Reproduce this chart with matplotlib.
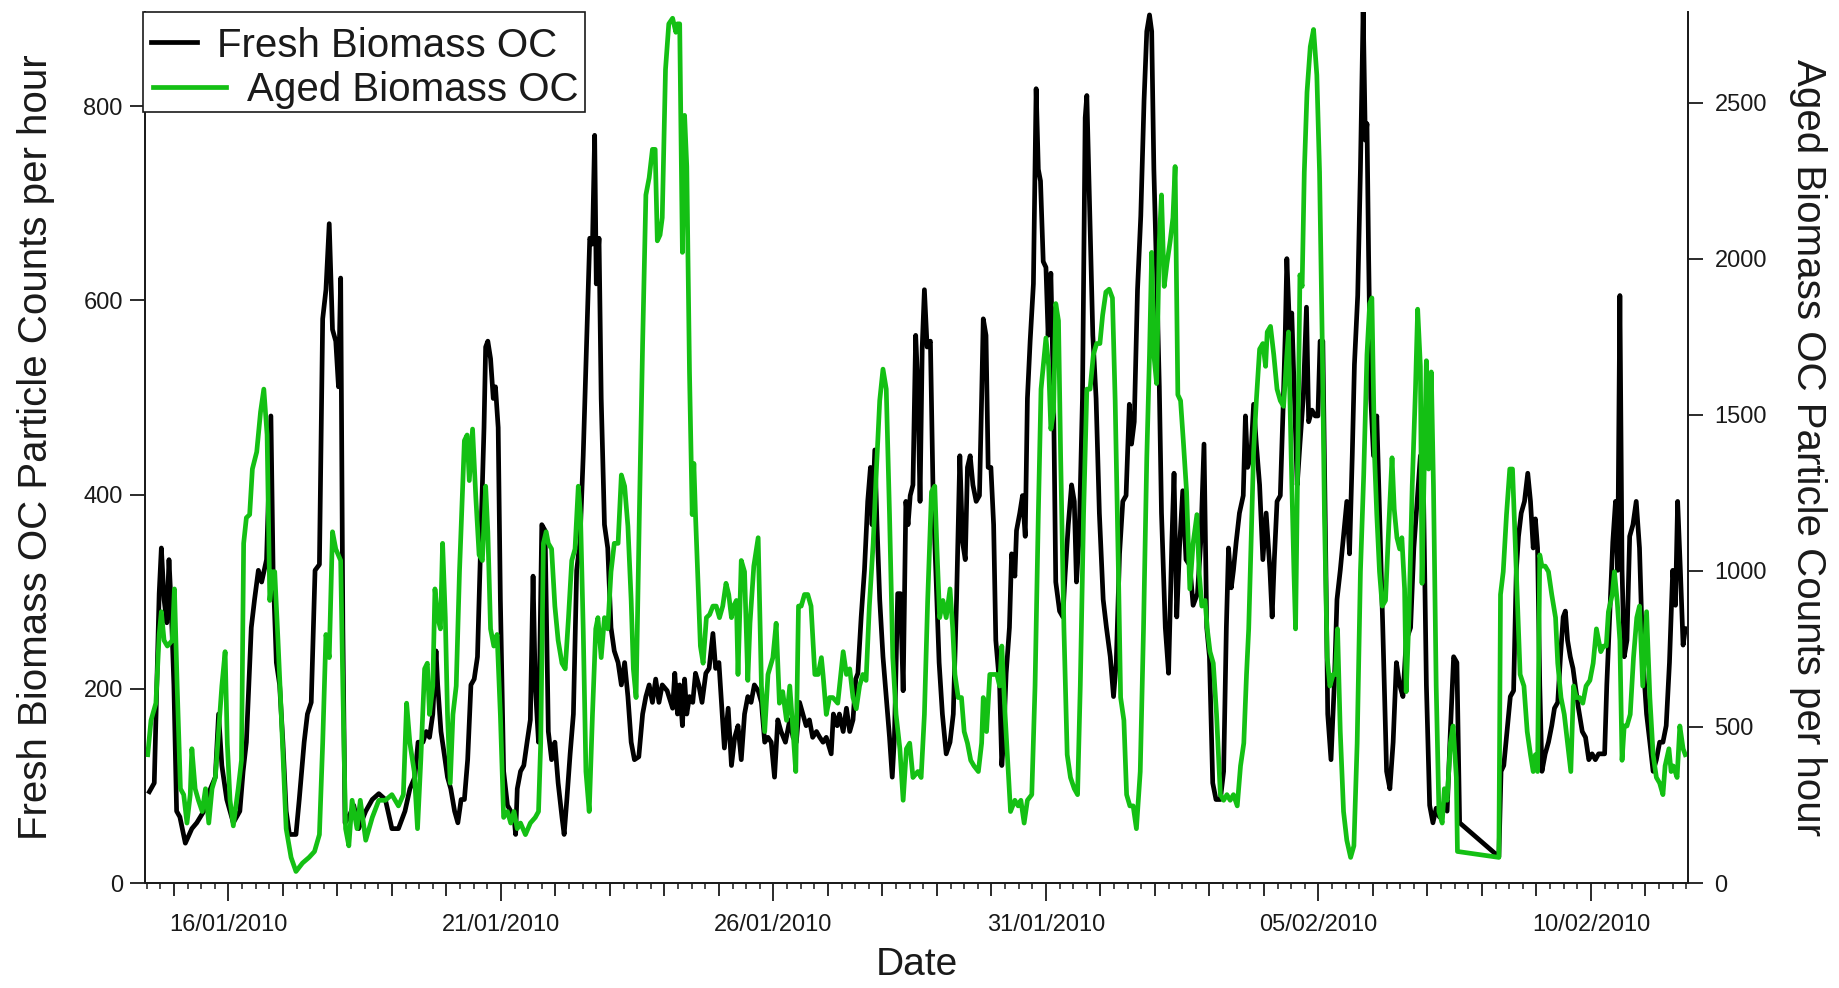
import matplotlib
matplotlib.use("Agg")
import matplotlib.pyplot as plt
import matplotlib.dates as mdates
from matplotlib.lines import Line2D
from matplotlib.patches import Rectangle
from matplotlib.ticker import FuncFormatter
import numpy as np
import pandas as pd

# -----------------------------
# Data (time = day of January 2010, e.g. 36.5 = 05/02/2010 12:00)
# -----------------------------

fresh_day = [
    14.55, 14.64, 14.73, 14.77, 14.82, 14.87, 14.91, 14.95, 15.00, 15.05, 15.11, 15.21, 15.33, 15.42,
    15.55, 15.67, 15.76, 15.82, 15.88, 15.97, 16.09, 16.21, 16.27, 16.33, 16.42, 16.48, 16.55, 16.61,
    16.70, 16.78, 16.82, 16.88, 16.94, 17.00, 17.06, 17.12, 17.24, 17.30, 17.39, 17.45, 17.52, 17.59,
    17.67, 17.73, 17.79, 17.85, 17.91, 17.97, 18.02, 18.06, 18.10, 18.14, 18.21, 18.30, 18.39, 18.52,
    18.64, 18.76, 18.88, 19.00, 19.12, 19.24, 19.33,
    19.42, 19.48, 19.57, 19.63, 19.69, 19.75, 19.81, 19.84, 19.90, 19.96, 20.02, 20.08, 20.15, 20.21,
    20.27, 20.33, 20.39, 20.45, 20.51, 20.57, 20.63, 20.69, 20.72, 20.76, 20.81, 20.86, 20.90, 20.95,
    20.99, 21.05, 21.12, 21.18, 21.24, 21.27, 21.30, 21.36, 21.42, 21.48, 21.54, 21.59, 21.63, 21.69,
    21.75, 21.81, 21.87, 21.93, 21.99, 22.05, 22.12, 22.16, 22.21, 22.27, 22.33, 22.39, 22.45, 22.51,
    22.57, 22.63, 22.68, 22.72, 22.75, 22.80, 22.84, 22.90, 22.96, 23.02, 23.08, 23.15, 23.21, 23.27,
    23.33, 23.39, 23.45, 23.53, 23.60, 23.66, 23.72, 23.78, 23.84, 23.90, 23.96, 24.05, 24.15, 24.19,
    24.24,
    24.28, 24.33, 24.37, 24.41, 24.46, 24.52, 24.57, 24.63, 24.69, 24.76, 24.82, 24.89, 24.94, 25.00,
    25.06, 25.10, 25.17, 25.23, 25.29, 25.35, 25.41, 25.47, 25.53, 25.59, 25.65, 25.72, 25.78, 25.84,
    25.90, 25.96, 26.02, 26.08, 26.14, 26.22, 26.30, 26.36, 26.42, 26.48, 26.54, 26.60, 26.66, 26.72,
    26.79, 26.85, 26.91, 26.97, 27.06, 27.10, 27.17, 27.21, 27.28, 27.34, 27.40, 27.46, 27.51, 27.55,
    27.61, 27.67, 27.73, 27.78, 27.81, 27.86, 27.90, 27.95, 28.01, 28.07, 28.13, 28.18, 28.22, 28.28,
    28.33, 28.38, 28.43, 28.47, 28.51, 28.56, 28.61, 28.65, 28.69, 28.73, 28.77, 28.82, 28.88, 28.93,
    28.98, 29.04, 29.10, 29.17,
    29.24, 29.30, 29.36, 29.42, 29.47, 29.52, 29.56, 29.61, 29.66, 29.72, 29.78, 29.82, 29.85, 29.90,
    29.94, 29.99, 30.04, 30.08, 30.15, 30.19, 30.22, 30.27, 30.33, 30.37, 30.43, 30.46, 30.52, 30.57,
    30.62, 30.66, 30.71, 30.77, 30.82, 30.86, 30.90, 30.95, 31.00, 31.04, 31.09, 31.14, 31.18, 31.25,
    31.31, 31.35, 31.41, 31.47, 31.52, 31.56, 31.61, 31.67, 31.72, 31.75, 31.80, 31.86, 31.92, 31.98,
    32.05, 32.11, 32.18, 32.24, 32.29, 32.35, 32.41, 32.47, 32.53, 32.57, 32.62, 32.68, 32.74, 32.80,
    32.85, 32.90, 32.94, 32.98, 33.03, 33.08, 33.12, 33.19, 33.25, 33.31, 33.35, 33.40, 33.45, 33.51,
    33.57, 33.64, 33.70, 33.78, 33.84, 33.90, 33.95, 34.00, 34.06, 34.12,
    34.20, 34.26, 34.31, 34.35, 34.40, 34.44, 34.49, 34.55, 34.62, 34.66, 34.70, 34.76, 34.81, 34.86,
    34.92, 34.98, 35.04, 35.11, 35.15, 35.19, 35.24, 35.30, 35.35, 35.39, 35.42, 35.47, 35.51, 35.56,
    35.61, 35.66, 35.72, 35.78, 35.82, 35.88, 35.94, 35.99, 36.03, 36.08, 36.13, 36.17, 36.23, 36.29,
    36.34, 36.40, 36.46, 36.52, 36.57, 36.62, 36.66, 36.72, 36.77, 36.82, 36.86, 36.89, 36.92, 36.96,
    37.01, 37.07, 37.12, 37.18, 37.25, 37.31, 37.37, 37.43, 37.49, 37.55, 37.61, 37.69, 37.75, 37.81,
    37.87, 37.92, 37.98, 38.04, 38.10, 38.16, 38.22, 38.29, 38.36, 38.42, 38.48, 38.54, 38.59,
    39.31, 39.35, 39.40, 39.46, 39.52, 39.58, 39.63, 39.67, 39.72, 39.78, 39.84, 39.89, 39.94, 39.98,
    40.02, 40.06, 40.10, 40.16, 40.22, 40.28, 40.33, 40.39, 40.44, 40.49, 40.53, 40.57, 40.62, 40.67,
    40.71, 40.77, 40.84, 40.90, 40.96, 41.02, 41.08, 41.14, 41.20, 41.25, 41.29, 41.36, 41.40, 41.45,
    41.49, 41.53, 41.57, 41.61, 41.66, 41.71, 41.77, 41.83, 41.89, 41.95, 42.02, 42.08, 42.14, 42.20,
    42.26, 42.32, 42.38, 42.44, 42.50, 42.55, 42.59, 42.64, 42.69, 42.73,
]
fresh_val = [
    94, 103, 298, 345, 292, 268, 333, 286, 204, 74, 68, 41, 56, 62,
    74, 97, 109, 174, 121, 86, 62, 74, 115, 145, 263, 292, 322, 310,
    333, 481, 322, 227, 204, 145, 74, 50, 50, 86, 145, 174, 186, 322,
    328, 581, 611, 679, 570, 558, 511, 623, 263, 62, 68, 80, 56, 74,
    86, 92, 86, 56, 56, 74, 97,
    109, 145, 145, 156, 150, 174, 239, 204, 156, 133, 109, 97, 74, 62,
    86, 86, 127, 204, 210, 233, 351, 469, 552, 558, 540, 499, 511, 469,
    292, 115, 80, 74, 68, 50, 97, 115, 121, 145, 168, 316, 204, 145,
    369, 363, 156, 127, 145, 103, 68, 50, 86, 133, 174, 322, 351, 440,
    552, 664, 658, 770, 617, 664, 499, 369, 345, 263, 239, 227, 204, 227,
    192, 145, 127, 130, 174, 192, 204, 186, 210, 186, 204, 198, 180, 216,
    174,
    204, 162, 210, 174, 192, 186, 216, 204, 186, 216, 221, 257, 221, 227,
    174, 139, 180, 121, 150, 162, 127, 174, 192, 186, 204, 198, 186, 145,
    150, 145, 109, 168, 156, 145, 168, 150, 145, 186, 174, 162, 168, 150,
    156, 150, 145, 150, 133, 174, 162, 174, 156, 180, 156, 168, 210, 216,
    274, 322, 393, 428, 369, 446, 369, 292, 233, 192, 150, 109, 150, 298,
    298, 198, 393, 369, 399, 410, 564, 511, 393, 552, 611, 552, 558, 399,
    322, 227, 174, 133,
    145, 174, 292, 440, 351, 333, 428, 440, 410, 393, 399, 499, 581, 564,
    428, 428, 369, 250, 204, 121, 145, 216, 263, 339, 316, 363, 381, 399,
    357, 499, 558, 617, 818, 735, 723, 640, 634, 564, 628, 499, 310, 280,
    274, 316, 369, 410, 393, 310, 357, 499, 788, 811, 699, 564, 499, 381,
    292, 263, 233, 192, 227, 339, 393, 399, 493, 452, 475, 611, 687, 806,
    877, 894, 877, 735, 628, 511, 381, 263, 216, 351, 422, 274, 345, 404,
    333, 327, 286, 298, 351, 452, 263, 233, 103, 86,
    86, 115, 263, 345, 304, 322, 351, 381, 399, 481, 428, 440, 493, 452,
    410, 333, 381, 322, 274, 333, 393, 399, 487, 564, 643, 570, 587, 499,
    410, 452, 499, 593, 475, 487, 481, 481, 558, 558, 351, 174, 127, 204,
    292, 322, 357, 393, 339, 440, 534, 605, 735, 900, 765, 782, 646, 499,
    440, 481, 381, 263, 115, 97, 145, 227, 204, 192, 250, 263, 345, 393,
    440, 428, 204, 80, 62, 77, 68, 80, 74, 156, 233, 227, 62,
    27, 115, 121, 156, 192, 198, 322, 357, 381, 393, 422, 393, 345, 375,
    345, 204, 115, 133, 145, 162, 180, 186, 233, 274, 280, 250, 233, 221,
    204, 180, 156, 150, 127, 133, 127, 133, 133, 133, 204, 298, 351, 393,
    322, 605, 322, 233, 250, 357, 369, 393, 345, 233, 174, 145, 115, 127,
    145, 145, 162, 227, 322, 286, 393, 322, 245, 262,
]

aged_day = [
    14.52, 14.58, 14.67, 14.73, 14.77, 14.82, 14.88, 14.97, 15.01, 15.06, 15.12, 15.18, 15.24, 15.30,
    15.33, 15.39, 15.45, 15.52, 15.58, 15.64, 15.70, 15.76, 15.82, 15.88, 15.94, 15.98, 16.03, 16.09,
    16.18, 16.24, 16.28, 16.33, 16.39, 16.44, 16.52, 16.59, 16.65, 16.71, 16.76, 16.81, 16.85, 16.91,
    16.97, 17.06, 17.15, 17.24, 17.36, 17.48, 17.58, 17.67, 17.73, 17.79, 17.85, 17.91, 17.97, 18.06,
    18.10, 18.15, 18.21, 18.27, 18.36, 18.42, 18.52, 18.64, 18.76, 18.88, 19.00, 19.12, 19.21, 19.27,
    19.33,
    19.41, 19.47, 19.53, 19.60, 19.65, 19.69, 19.75, 19.79, 19.84, 19.89, 19.93, 19.98, 20.02, 20.07,
    20.12, 20.18, 20.24, 20.28, 20.33, 20.38, 20.42, 20.48, 20.54, 20.60, 20.66, 20.72, 20.76, 20.81,
    20.87, 20.93, 20.99, 21.05, 21.12, 21.18, 21.24, 21.30, 21.36, 21.45, 21.54, 21.63, 21.69, 21.73,
    21.78, 21.83, 21.87, 21.93, 21.99, 22.05, 22.12, 22.18, 22.24, 22.30, 22.36, 22.42, 22.46, 22.51,
    22.56, 22.62, 22.68, 22.74, 22.78, 22.84, 22.90, 22.96, 23.02, 23.08, 23.15, 23.21, 23.27, 23.33,
    23.39, 23.43, 23.48, 23.54, 23.60, 23.66, 23.72, 23.78, 23.83, 23.87, 23.92, 23.96, 24.02, 24.08,
    24.15, 24.21, 24.24,
    24.28, 24.33, 24.37, 24.41, 24.46, 24.51, 24.54, 24.57, 24.61, 24.66, 24.71, 24.77, 24.83, 24.89,
    24.95, 25.01, 25.07, 25.13, 25.18, 25.23, 25.27, 25.32, 25.35, 25.41, 25.47, 25.53, 25.57, 25.64,
    25.72, 25.78, 25.84, 25.90, 25.99, 26.05, 26.11, 26.17, 26.24, 26.30, 26.36, 26.41, 26.46, 26.51,
    26.57, 26.63, 26.69, 26.76, 26.82, 26.88, 26.91, 26.97, 27.03, 27.09, 27.18, 27.28, 27.34, 27.40,
    27.46, 27.52, 27.58, 27.64, 27.70, 27.76, 27.83, 27.89, 27.95, 28.01, 28.07, 28.13, 28.19, 28.25,
    28.32, 28.38, 28.44, 28.50, 28.56, 28.65, 28.71, 28.77, 28.83, 28.90, 28.96, 29.00, 29.05, 29.11,
    29.17,
    29.24, 29.29, 29.33, 29.39, 29.45, 29.50, 29.56, 29.62, 29.68, 29.76, 29.82, 29.85, 29.91, 29.97,
    30.04, 30.10, 30.15, 30.19, 30.25, 30.31, 30.35, 30.43, 30.49, 30.54, 30.60, 30.66, 30.74, 30.80,
    30.86, 30.91, 30.95, 31.00, 31.05, 31.09, 31.14, 31.18, 31.23, 31.27, 31.33, 31.39, 31.45, 31.52,
    31.58, 31.63, 31.69, 31.75, 31.81, 31.87, 31.93, 31.99, 32.04, 32.10, 32.16, 32.22, 32.27, 32.33,
    32.37, 32.43, 32.48, 32.54, 32.60, 32.66, 32.73, 32.79, 32.85, 32.90, 32.94, 32.98, 33.03, 33.08,
    33.12, 33.17, 33.22, 33.28, 33.33, 33.37, 33.42, 33.47, 33.52, 33.58, 33.64, 33.70, 33.77, 33.81,
    33.86, 33.92, 33.96, 34.01, 34.07, 34.13,
    34.20, 34.26, 34.32, 34.38, 34.44, 34.51, 34.57, 34.63, 34.68, 34.72, 34.76, 34.81, 34.86, 34.92,
    34.98, 35.03, 35.06, 35.12, 35.18, 35.24, 35.30, 35.36, 35.42, 35.45, 35.50, 35.55, 35.58, 35.62,
    35.66, 35.70, 35.74, 35.79, 35.85, 35.91, 35.97, 36.02, 36.07, 36.11, 36.16, 36.21, 36.27, 36.31,
    36.35, 36.40, 36.46, 36.52, 36.59, 36.65, 36.71, 36.77, 36.83, 36.89, 36.94, 36.98, 37.03, 37.07,
    37.12, 37.17, 37.23, 37.29, 37.35, 37.39, 37.44, 37.49, 37.53, 37.58, 37.61, 37.66, 37.72, 37.78,
    37.82, 37.87, 37.90, 37.94, 37.98, 38.02, 38.07, 38.11, 38.16, 38.21, 38.27, 38.31, 38.36, 38.42,
    38.47, 38.53, 38.55,
    39.31, 39.34, 39.39, 39.45, 39.51, 39.56, 39.61, 39.65, 39.70, 39.77, 39.83, 39.89, 39.94, 39.98,
    40.02, 40.06, 40.10, 40.16, 40.22, 40.28, 40.35, 40.39, 40.45, 40.51, 40.57, 40.63, 40.68, 40.73,
    40.79, 40.85, 40.91, 40.98, 41.04, 41.10, 41.14, 41.18, 41.23, 41.28, 41.32, 41.39, 41.43, 41.48,
    41.53, 41.57, 41.61, 41.66, 41.72, 41.78, 41.84, 41.89, 41.95, 42.02, 42.08, 42.14, 42.20, 42.26,
    42.32, 42.36, 42.43, 42.47, 42.51, 42.58, 42.63, 42.69, 42.73,
]
aged_val = [
    411, 521, 576, 796, 869, 777, 759, 777, 942, 631, 302, 283, 192, 283,
    430, 302, 265, 229, 302, 192, 302, 338, 485, 631, 741, 448, 265, 183,
    302, 393, 1088, 1170, 1180, 1326, 1381, 1509, 1582, 1436, 905, 997, 997, 777,
    540, 174, 82, 37, 64, 82, 101, 155, 448, 796, 722, 1125, 1070, 1033,
    631, 174, 119, 265, 174, 265, 137, 210, 265, 265, 283, 247, 283, 576,
    448,
    357, 174, 393, 686, 704, 540, 631, 942, 850, 814, 1088, 850, 540, 320,
    540, 631, 997, 1180, 1417, 1435, 1289, 1454, 1234, 1051, 1033, 1271, 1125, 814,
    759, 796, 540, 210, 229, 192, 229, 174, 192, 155, 192, 210, 229, 448,
    1088, 1125, 1088, 1070, 887, 777, 704, 686, 850, 1033, 1070, 1271, 1180, 814,
    357, 229, 540, 814, 850, 722, 850, 814, 997, 1088, 1088, 1307, 1271, 1143,
    905, 686, 594, 1180, 1728, 2204, 2259, 2350, 2350, 2057, 2076, 2131, 2606, 2752,
    2770, 2725, 2752,
    2752, 2020, 2459, 2295, 1636, 1180, 1344, 1180, 997, 759, 704, 850, 860, 887,
    887, 850, 887, 960, 924, 850, 887, 905, 668, 1033, 997, 649, 832, 1015,
    1106, 631, 485, 668, 722, 832, 576, 613, 521, 631, 485, 357, 887, 887,
    924, 924, 887, 668, 668, 722, 668, 540, 594, 594, 576, 741, 668, 686,
    594, 558, 631, 668, 649, 887, 1088, 1326, 1545, 1646, 1582, 1180, 722, 540,
    430, 265, 430, 448, 338, 357, 338, 540, 905, 1253, 1271, 1070, 850, 905,
    850,
    942, 814, 668, 594, 594, 485, 448, 393, 375, 357, 448, 594, 485, 668,
    668, 668, 631, 759, 540, 357, 229, 265, 247, 265, 192, 265, 283, 631,
    1180, 1582, 1655, 1746, 1655, 1454, 1509, 1856, 1801, 1362, 814, 411, 338, 302,
    283, 631, 1180, 1582, 1582, 1692, 1728, 1728, 1819, 1893, 1902, 1874, 1545, 997,
    594, 521, 283, 247, 247, 174, 357, 814, 1362, 1692, 2020, 1692, 1600, 2057,
    2204, 1911, 1984, 2057, 2131, 2295, 1564, 1545, 1417, 1253, 942, 1088, 1180, 997,
    887, 905, 814, 741, 704, 540,
    283, 265, 283, 265, 283, 247, 375, 448, 668, 814, 1070, 1381, 1545, 1710,
    1728, 1655, 1765, 1783, 1692, 1582, 1545, 1527, 1692, 1765, 1362, 997, 814, 1362,
    1948, 1911, 2277, 2533, 2679, 2734, 2588, 2277, 1728, 1180, 722, 631, 668, 668,
    814, 485, 229, 137, 82, 119, 448, 997, 1307, 1692, 1856, 1874, 1362, 1180,
    997, 887, 905, 1143, 1362, 1198, 1106, 1070, 1106, 942, 613, 850, 1271, 1582,
    1838, 1655, 960, 1326, 1673, 1326, 1637, 1271, 631, 229, 192, 302, 265, 448,
    503, 338, 101,
    82, 924, 997, 1180, 1326, 1326, 1088, 905, 668, 631, 485, 411, 357, 411,
    357, 1051, 1015, 1015, 997, 924, 850, 704, 594, 540, 448, 357, 631, 594,
    594, 576, 631, 649, 704, 814, 777, 741, 759, 759, 869, 924, 997, 905,
    777, 393, 503, 503, 540, 722, 850, 887, 631, 869, 594, 411, 338, 320,
    283, 375, 430, 357, 375, 338, 503, 430, 411,
]

series_names = ["Fresh Biomass OC", "Aged Biomass OC"]

start = pd.Timestamp("2010-01-01")
fresh_time = start + pd.to_timedelta(np.array(fresh_day) - 1, unit="D")
aged_time = start + pd.to_timedelta(np.array(aged_day) - 1, unit="D")

# -----------------------------
# Style
# -----------------------------

plt.rcParams["font.family"] = ["Liberation Sans", "DejaVu Sans"]
ink = "#1a1a1a"
green = "#14c014"
lw = 3.4

W, H = 1839, 988
fig = plt.figure(figsize=(W / 100, H / 100), dpi=100)
ax = fig.add_axes([145 / W, 1 - 883 / H, (1688 - 145) / W, (883 - 12) / H])
ax2 = ax.twinx()

ax.plot(fresh_time, fresh_val, color="black", lw=lw, solid_joinstyle="round")
ax2.plot(aged_time, aged_val, color=green, lw=lw, solid_joinstyle="round")

ax.set_xlim(start + pd.Timedelta(days=13.47), start + pd.Timedelta(days=41.78))
ax.set_ylim(0, 897)
ax2.set_ylim(0, 2790)

ax.set_yticks([0, 200, 400, 600, 800])
ax2.set_yticks([0, 500, 1000, 1500, 2000, 2500])

# Date axis: daily ticks, labels every 5 days, minor ticks every 6 hours
ax.xaxis.set_major_locator(mdates.DayLocator())
ax.xaxis.set_minor_locator(mdates.HourLocator(byhour=[6, 12, 18]))
ref = pd.Timestamp("2010-01-16")


def date_label(x, pos):
    d = pd.Timestamp(mdates.num2date(x).replace(tzinfo=None)).normalize()
    if (d - ref).days % 5 == 0:
        return d.strftime("%d/%m/%Y")
    return ""


ax.xaxis.set_major_formatter(FuncFormatter(date_label))

for a in (ax, ax2):
    a.spines["top"].set_visible(False)
    for s in a.spines.values():
        s.set_linewidth(1.3)
        s.set_color(ink)

ax.tick_params(axis="x", which="major", length=9.5, width=1.3, pad=13,
               labelsize=17, colors=ink)
ax.tick_params(axis="x", which="minor", length=4.5, width=1.1, colors=ink)
ax.tick_params(axis="y", length=11, width=1.3, pad=5, labelsize=17, colors=ink)
ax2.tick_params(axis="y", length=11, width=1.3, pad=8, labelsize=17, colors=ink)

# Longer ticks at the labelled dates
fig.canvas.draw()
for tick, loc in zip(ax.xaxis.get_major_ticks(), ax.get_xticks()):
    if date_label(loc, None):
        tick.tick1line.set_markersize(13)

ax.set_xlabel("Date", fontsize=28, labelpad=8, color=ink)
ax.set_ylabel("Fresh Biomass OC Particle Counts per hour", fontsize=29, labelpad=20,
              color=ink)
ax2.set_ylabel("Aged Biomass OC Particle Counts per hour", fontsize=29, rotation=270,
               labelpad=43, color=ink)

# -----------------------------
# Legend (Igor-style box, drawn in figure pixels)
# -----------------------------

fig.add_artist(Rectangle((143 / W, 1 - 112 / H), (585 - 143) / W, 100 / H,
                         transform=fig.transFigure, facecolor="white",
                         edgecolor=ink, lw=1.2, zorder=5))
fig.add_artist(Line2D([151 / W, 197 / W], [1 - 42 / H, 1 - 42 / H],
                      transform=fig.transFigure, color="black", lw=lw, zorder=6))
fig.add_artist(Line2D([153 / W, 226 / W], [1 - 87 / H, 1 - 87 / H],
                      transform=fig.transFigure, color=green, lw=lw, zorder=6))
fig.text(217 / W, 1 - 57 / H, series_names[0], fontsize=29, va="baseline",
         color=ink, zorder=7)
fig.text(247 / W, 1 - 101 / H, series_names[1], fontsize=29, va="baseline",
         color=ink, zorder=7)

fig.savefig("out.png", dpi=100)
plt.close(fig)
